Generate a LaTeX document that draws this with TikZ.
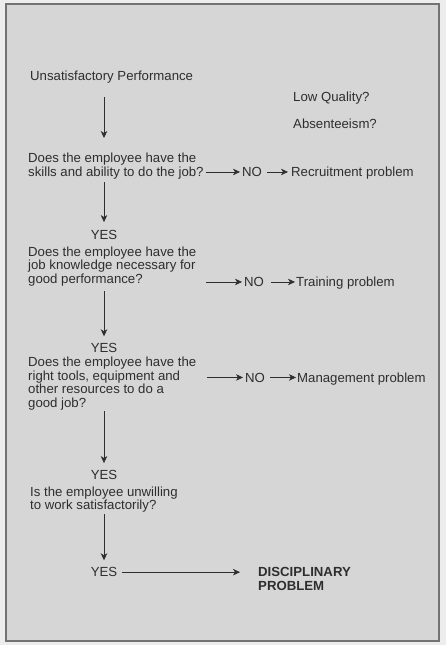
\documentclass[tikz,border=0pt]{standalone}
\usepackage{fontspec}
\setmainfont{Liberation Sans}
\usetikzlibrary{arrows.meta}
\colorlet{scanbg}{black!7}
\colorlet{pagebg}{black!16}
\colorlet{ink}{black!82}
\tikzset{fcp/.style={
  x=1pt,
  y=-1pt
}}
\tikzset{fct/.style={
  inner sep=0pt,
  text=ink,
  font=\fontsize{13.2}{13.6}\selectfont
}}
\tikzset{fcl/.style={fct,anchor=base west}}
\tikzset{fcq/.style={fct,align=left,anchor=north west}}
\tikzset{fcy/.style={fct,anchor=base}}
\tikzset{fca/.style={
  draw=ink,
  line width=0.75pt,
  -{Stealth[length=7pt,width=6.5pt,inset=2pt]}
}}

\begin{document}
\begin{tikzpicture}[fcp]
    % Scanned page background
    \fill[scanbg] (0,0) rectangle (446,645);
    \useasboundingbox (0,0) rectangle (446,645);
    \filldraw[fill=pagebg,draw=black!55,line width=1.2pt] (6,4) rectangle (439,641);
    \coordinate (col) at (104,0);

    % Start and symptoms
    \node[fcl] (perf) at (30,80) {Unsatisfactory Performance};
    \node[fcl] (lowq) at (293,101) {Low Quality?};
    \node[fcl] (absn) at (293,128) {Absenteeism?};

    % Skills question
    \node[fcq] (qskill) at (28,153) {Does the employee have the\\skills and ability to do the job?};
    \node[fcl] (noskill) at (242,176.5) {NO};
    \node[fcl] (recr) at (291,176.5) {Recruitment problem};
    \node[fcy] (yskill) at (104,239) {YES};

    % Knowledge question
    \node[fcq] (qknow) at (28,246.5) {Does the employee have the\\job knowledge necessary for\\good performance?};
    \node[fcl] (noknow) at (244,286.5) {NO};
    \node[fcl] (train) at (296,286.5) {Training problem};
    \node[fcy] (yknow) at (104,352.7) {YES};

    % Resources question
    \node[fcq] (qtool) at (28,357) {Does the employee have the\\right tools, equipment and\\other resources to do a\\good job?};
    \node[fcl] (notool) at (245,382) {NO};
    \node[fcl] (mgmt) at (297,382) {Management problem};
    \node[fcy] (ytool) at (104,479) {YES};

    % Willingness question
    \node[fcq] (qwill) at (30,486.5) {Is the employee unwilling\\to work satisfactorily?};
    \node[fcy] (ywill) at (104,576.7) {YES};
    \node[fct,font=\fontsize{13.2}{13.6}\selectfont\bfseries,align=left,anchor=north west]
      (disc) at (258,567.2) {DISCIPLINARY\\PROBLEM};

    % Down the YES column
    \draw[fca,shorten <=14pt,shorten >=15pt] (perf.south -| col) -- (qskill.north -| col);
    \draw[fca,shorten <=3pt,shorten >=7.5pt] (qskill.south -| col) -- (yskill.north);
    \draw[fca,shorten <=5pt,shorten >=7pt] (qknow.south -| col) -- (yknow.north);
    \draw[fca,shorten <=0.5pt,shorten >=6.5pt] (qtool.south -| col) -- (ytool.north);
    \draw[fca,shorten <=1pt,shorten >=7pt] (qwill.south -| col) -- (ywill.north);

    % NO branches
    \draw[fca,shorten <=2pt,shorten >=2pt] (qskill.east |- noskill.west) -- (noskill.west);
    \draw[fca,shorten <=5pt,shorten >=3pt] (noskill.east) -- (recr.west |- noskill.east);
    \draw[fca,shorten <=10pt,shorten >=2pt] (qknow.east |- noknow.west) -- (noknow.west);
    \draw[fca,shorten <=7pt,shorten >=1pt] (noknow.east) -- (train.west |- noknow.east);
    \draw[fca,shorten <=11pt,shorten >=2pt] (qtool.east |- notool.west) -- (notool.west);
    \draw[fca,shorten <=5pt,shorten >=1pt] (notool.east) -- (mgmt.west |- notool.east);

    % Last YES
    \draw[fca,shorten <=5pt,shorten >=18pt] (ywill.east) -- (ywill.east -| disc.west);
\end{tikzpicture}
\end{document}
